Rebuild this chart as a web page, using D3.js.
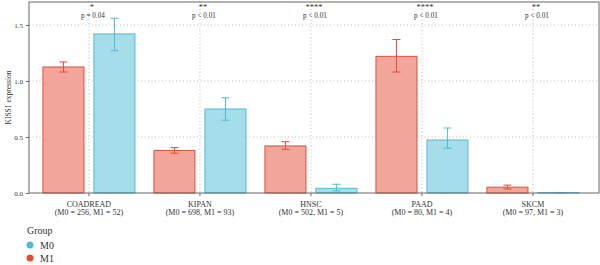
<!DOCTYPE html>
<html>
<head>
<meta charset="utf-8">
<script src="https://cdn.jsdelivr.net/npm/d3@7"></script>
<style>
  body { margin: 0; background: #fff; }
  text { font-family: "Liberation Serif", "DejaVu Serif", serif; fill: #333; }
</style>
</head>
<body>
<svg id="chart" width="600" height="265"></svg>
<script>
const categories = ["COADREAD", "KIPAN", "HNSC", "PAAD", "SKCM"];
const sampleLabels = ["(M0 = 256, M1 = 52)", "(M0 = 698, M1 = 93)", "(M0 = 502, M1 = 5)", "(M0 = 80, M1 = 4)", "(M0 = 97, M1 = 3)"];
const groups = ["M1", "M0"];
const m1Mean = [1.125, 0.38, 0.42, 1.22, 0.052];
const m1Low = [1.08, 0.355, 0.39, 1.08, 0.036];
const m1High = [1.17, 0.405, 0.458, 1.37, 0.07];
const m0Mean = [1.42, 0.75, 0.042, 0.473, 0.003];
const m0Low = [1.27, 0.65, 0.018, 0.40, 0.001];
const m0High = [1.56, 0.85, 0.078, 0.58, 0.005];
const stars = ["*", "**", "****", "****", "**"];
const pLabels = ["p = 0.04", "p < 0.01", "p < 0.01", "p < 0.01", "p < 0.01"];
const yTicks = [0, 0.5, 1.0, 1.5];

const strokeCol = { M0: "#4DBBD5", M1: "#E64B35" };
const fillCol = { M0: "#A6DDEA", M1: "#F2A59A" };

const svg = d3.select("#chart");
const pLeft = 29, pRight = 599, pTop = 2, pBottom = 193;

const x = d3.scaleLinear().domain([-0.54, 4.595]).range([pLeft, pRight]);
const xSub = d3.scaleBand().domain(groups).range([-46, 46]).paddingInner(0.196);
const y = d3.scaleLinear().domain([0, 1.705]).range([pBottom, pTop]);

const rows = [];
categories.forEach((c, i) => {
  rows.push({ cat: c, i, g: "M1", v: m1Mean[i], lo: m1Low[i], hi: m1High[i] });
  rows.push({ cat: c, i, g: "M0", v: m0Mean[i], lo: m0Low[i], hi: m0High[i] });
});

// grid
const grid = svg.append("g").attr("stroke", "#bbb").attr("stroke-width", 1).attr("stroke-dasharray", "1,2.5");
grid.selectAll(".hg").data(yTicks.filter(d => d > 0)).enter().append("line")
  .attr("x1", pLeft).attr("x2", pRight).attr("y1", d => y(d)).attr("y2", d => y(d));
grid.selectAll(".vg").data(categories).enter().append("line")
  .attr("x1", (d, i) => x(i)).attr("x2", (d, i) => x(i)).attr("y1", pTop).attr("y2", pBottom);

// bars
svg.selectAll(".bar").data(rows).enter().append("rect")
  .attr("x", d => x(d.i) + xSub(d.g))
  .attr("width", xSub.bandwidth())
  .attr("y", d => y(d.v))
  .attr("height", d => y(0) - y(d.v))
  .attr("fill", d => fillCol[d.g])
  .attr("stroke", d => strokeCol[d.g])
  .attr("stroke-width", 1);

// error bars
const eb = svg.selectAll(".eb").data(rows).enter().append("g")
  .attr("stroke", d => strokeCol[d.g]).attr("stroke-width", 1)
  .attr("transform", d => `translate(${x(d.i) + xSub(d.g) + xSub.bandwidth() / 2},0)`);
eb.append("line").attr("y1", d => y(d.lo)).attr("y2", d => y(d.hi));
eb.append("line").attr("x1", -4).attr("x2", 4).attr("y1", d => y(d.lo)).attr("y2", d => y(d.lo));
eb.append("line").attr("x1", -4).attr("x2", 4).attr("y1", d => y(d.hi)).attr("y2", d => y(d.hi));

// panel border
svg.append("rect").attr("x", pLeft).attr("y", pTop).attr("width", pRight - pLeft).attr("height", pBottom - pTop)
  .attr("fill", "none").attr("stroke", "#666").attr("stroke-width", 1);

// y axis
const yAxis = svg.append("g").attr("transform", `translate(${pLeft},0)`)
  .call(d3.axisLeft(y).tickValues(yTicks).tickFormat(d3.format(".1f")).tickSize(3));
yAxis.select(".domain").remove();
yAxis.selectAll("line").attr("stroke", "#666");
yAxis.selectAll("text").attr("font-size", 7).attr("fill", "#333").attr("font-family", "Liberation Serif");

// x axis ticks
svg.append("g").selectAll("line").data(categories).enter().append("line")
  .attr("x1", (d, i) => x(i)).attr("x2", (d, i) => x(i)).attr("y1", pBottom).attr("y2", pBottom + 3)
  .attr("stroke", "#666");

const xl = svg.append("g").attr("text-anchor", "middle").attr("font-size", 8);
xl.selectAll(".c").data(categories).enter().append("text")
  .attr("x", (d, i) => x(i)).attr("y", 207).text(d => d);
xl.selectAll(".n").data(sampleLabels).enter().append("text")
  .attr("x", (d, i) => x(i)).attr("y", 215).text(d => d);

// significance labels
const sig = svg.append("g").attr("text-anchor", "middle");
sig.selectAll(".s").data(stars).enter().append("text")
  .attr("x", (d, i) => x(i) + 3).attr("y", 10).attr("font-size", 8.5).text(d => d);
sig.selectAll(".p").data(pLabels).enter().append("text")
  .attr("x", (d, i) => x(i) + 4).attr("y", 18.3).attr("font-size", 7.2).text(d => d);

// y label
svg.append("text").attr("transform", `translate(11,${(pTop + pBottom) / 2}) rotate(-90)`)
  .attr("text-anchor", "middle").attr("font-size", 7.5).text("KISS1 expression");

// legend
const legend = svg.append("g");
legend.append("text").attr("x", 27).attr("y", 234).attr("font-size", 10).text("Group");
const li = legend.selectAll(".li").data(["M0", "M1"]).enter().append("g")
  .attr("transform", (d, i) => `translate(0,${245 + i * 13})`);
li.append("circle").attr("cx", 30).attr("cy", 0).attr("r", 3.5).attr("fill", d => strokeCol[d]);
li.append("text").attr("x", 40).attr("y", 3.5).attr("font-size", 10).text(d => d);
</script>
</body>
</html>
